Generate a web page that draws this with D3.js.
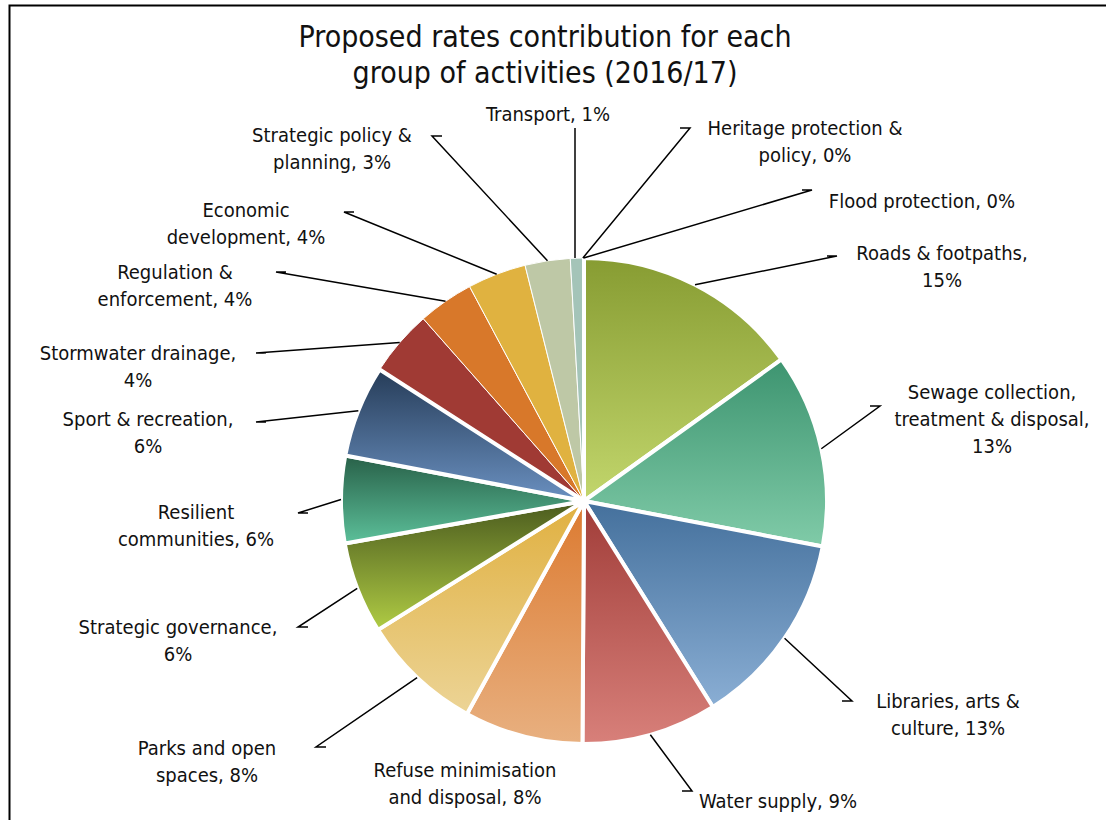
<!DOCTYPE html>
<html lang="en">
<head>
  <meta charset="UTF-8">
  <title>Proposed rates contribution</title>
  <script src="https://d3js.org/d3.v7.min.js"></script>
  <style>
    body { margin: 0; background: #fff; overflow: hidden; }
    svg { display: block; }
    text { font-family: "Liberation Sans Narrow", "DejaVu Sans Condensed", "Roboto", sans-serif; fill: #111; }
    .leader { stroke: #000; stroke-width: 1.5px; fill: none; }
  </style>
</head>
<body>
<svg width="1106" height="820"></svg>
<script>
// activity groups, clockwise from 12 o'clock
const categories = [
  "Roads & footpaths", "Sewage collection, treatment & disposal", "Libraries, arts & culture",
  "Water supply", "Refuse minimisation and disposal", "Parks and open spaces",
  "Strategic governance", "Resilient communities", "Sport & recreation",
  "Stormwater drainage", "Regulation & enforcement", "Economic development",
  "Strategic policy & planning", "Transport", "Heritage protection & policy", "Flood protection"
];
// share of rates (%)
const shares = [15.1, 12.9, 13.1, 9.0, 7.9, 8.1, 6.1, 5.8, 6.1, 4.4, 3.7, 3.9, 3.0, 0.8, 0.05, 0.05];
// label lines as they wrap in the original
const labelLines = [
  ["Roads & footpaths,", "15%"],
  ["Sewage collection,", "treatment & disposal,", "13%"],
  ["Libraries, arts &", "culture, 13%"],
  ["Water supply, 9%"],
  ["Refuse minimisation", "and disposal, 8%"],
  ["Parks and open", "spaces, 8%"],
  ["Strategic governance,", "6%"],
  ["Resilient", "communities, 6%"],
  ["Sport & recreation,", "6%"],
  ["Stormwater drainage,", "4%"],
  ["Regulation &", "enforcement, 4%"],
  ["Economic", "development, 4%"],
  ["Strategic policy &", "planning, 3%"],
  ["Transport, 1%"],
  ["Heritage protection &", "policy, 0%"],
  ["Flood protection, 0%"]
];
// gradient colours: top, bottom (same colour = flat fill)
const topColors = ["#879c32", "#3d9470", "#44709c", "#a03c38", "#dc7a30", "#e0b040", "#4a5a1e", "#286048", "#263c58",
  "#a03a34", "#d8782a", "#e0b240", "#bec8a6", "#a4c4b8", "#9cb850", "#5a9a7a"];
const bottomColors = ["#c2d66c", "#80cba8", "#8aaed4", "#d8807a", "#e8b080", "#ecd496", "#b0cc44", "#5cc09a", "#6a90c0",
  "#a03a34", "#d8782a", "#e0b240", "#bec8a6", "#a4c4b8", "#9cb850", "#5a9a7a"];

// label placement (centre x of text block, first line y) and leader bend point
const labelPos = [
  [942, 260, 837, 256], [992, 399, 880, 406], [948, 708, 852, 701], [778, 808, 692, 791],
  [465, 777, null, null], [207, 755, 316, 747], [178, 634, 298, 627], [196, 519, 298, 513],
  [148, 426, 256, 422], [138, 360, 256, 353], [175, 279, 276, 272], [246, 217, 344, 212],
  [332, 142, 432, 136], [548, 121, 575, 128], [805, 135, 690, 128], [922, 208, 812, 190]
];

const width = 1106, height = 820;
const cx = 584, cy = 501, radius = 243;
const svg = d3.select("svg");

// chart frame (cropped on right/bottom)
svg.append("path").attr("d", `M9.5,${height} V5.5 H${width}`)
  .attr("fill", "none").attr("stroke", "#000").attr("stroke-width", 2);

// title
const title = svg.append("text").attr("x", 545).attr("y", 47).attr("text-anchor", "middle")
  .style("font-size", "30px");
title.append("tspan").attr("x", 545).text("Proposed rates contribution for each");
title.append("tspan").attr("x", 545).attr("dy", 36).text("group of  activities (2016/17)");

const defs = svg.append("defs");
categories.forEach((c, i) => {
  const g = defs.append("linearGradient").attr("id", "grad" + i)
    .attr("x1", 0).attr("y1", 0).attr("x2", 0).attr("y2", 1);
  g.append("stop").attr("offset", "0%").attr("stop-color", topColors[i]);
  g.append("stop").attr("offset", "100%").attr("stop-color", bottomColors[i]);
});

const data = categories.map((c, i) => ({ name: c, value: shares[i], i }));
const pie = d3.pie().sort(null).value(d => d.value);
const arcs = pie(data);
const arc = d3.arc().innerRadius(0).outerRadius(radius);
const isFlat = i => topColors[i] === bottomColors[i];

const chart = svg.append("g").attr("transform", `translate(${cx},${cy})`);

// flat slices first (thin white edge), gradient slices on top (thick white edge)
const drawOrder = arcs.slice().sort((a, b) => (isFlat(b.data.i) ? 1 : 0) - (isFlat(a.data.i) ? 1 : 0));
chart.selectAll("path.slice")
  .data(drawOrder)
  .enter().append("path")
  .attr("class", "slice")
  .attr("d", arc)
  .attr("fill", d => `url(#grad${d.data.i})`)
  .attr("stroke", "#fff")
  .attr("stroke-width", d => isFlat(d.data.i) ? 1 : 4)
  .attr("stroke-linejoin", "round");

// leader lines: from the slice edge at its mid angle to the bend point, then to the label
const edge = d3.arc().innerRadius(radius).outerRadius(radius);
arcs.forEach(d => {
  const p = labelPos[d.data.i];
  if (p[2] === null) return;
  const mid = (d.startAngle + d.endAngle) / 2;
  const ex = cx + Math.sin(mid) * radius;
  const ey = cy - Math.cos(mid) * radius;
  const side = p[2] > p[0] ? 1 : -1;
  let path;
  if (d.data.i === 13) {
    path = `M${p[2]},${p[3]} V${ey}`;
  } else {
    path = `M${p[2] + side * 10},${p[3]} H${p[2]} L${ex},${ey}`;
  }
  svg.append("path").attr("class", "leader").attr("d", path)
    .attr("stroke", d.data.i >= 14 ? "#555" : "#000");
});

// data labels
arcs.forEach(d => {
  const p = labelPos[d.data.i];
  const t = svg.append("text").attr("x", p[0]).attr("y", p[1])
    .attr("text-anchor", "middle").style("font-size", "20px");
  labelLines[d.data.i].forEach((line, k) => {
    t.append("tspan").attr("x", p[0]).attr("dy", k === 0 ? 0 : 27).text(line);
  });
});
</script>
</body>
</html>
